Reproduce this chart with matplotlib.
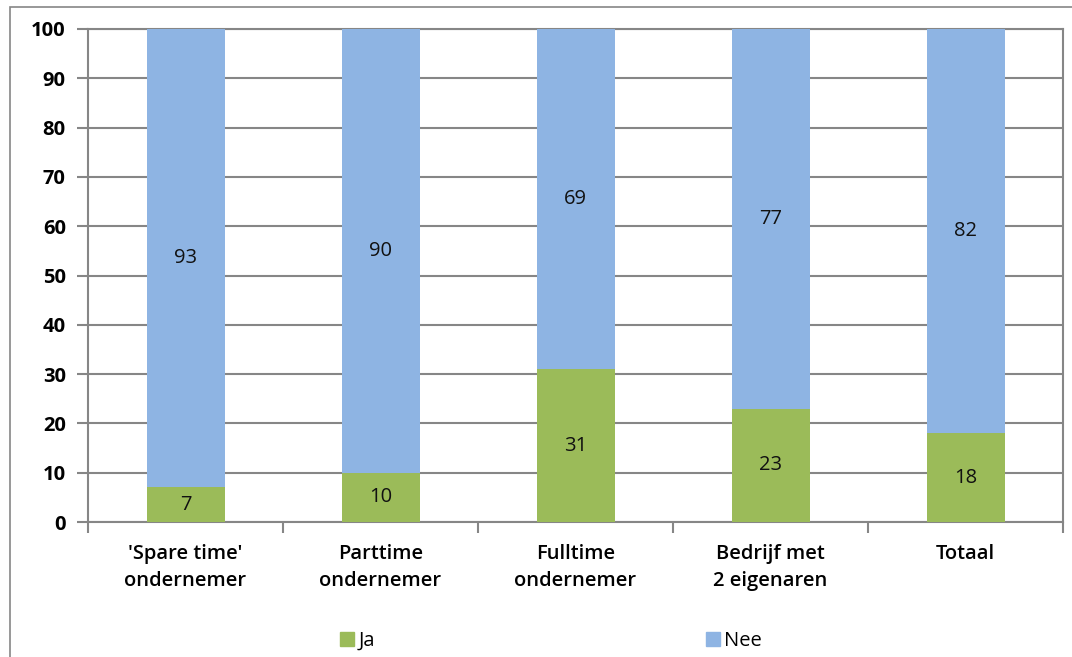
import matplotlib.pyplot as plt
from matplotlib.patches import Patch, Rectangle
import numpy as np

categories = ["'Spare time'\nondernemer", "Parttime\nondernemer", "Fulltime\nondernemer",
              "Bedrijf met\n2 eigenaren", "Totaal"]
ja = [7, 10, 31, 23, 18]
nee = [93, 90, 69, 77, 82]

green = '#9BBB59'
blue = '#8EB4E3'
grey = '#868686'

plt.rcParams['font.family'] = ['Open Sans', 'DejaVu Sans']

fig = plt.figure(figsize=(10.72, 6.57), dpi=100)
ax = fig.add_axes([88/1072, 1-522/657, (1063-88)/1072, (522-29)/657])

x = np.arange(len(categories))
ax.bar(x, ja, width=0.4, color=green, zorder=3)
ax.bar(x, nee, width=0.4, bottom=ja, color=blue, zorder=3)

for i in range(len(x)):
    ax.text(x[i], ja[i]/2, str(ja[i]), ha='center', va='center', fontsize=14.5, color='#111111', zorder=4)
    ax.text(x[i], ja[i] + nee[i]/2, str(nee[i]), ha='center', va='center', fontsize=14.5, color='#111111', zorder=4)

ax.set_xlim(-0.5, len(categories) - 0.5)
ax.set_ylim(0, 100)
ax.set_yticks(range(0, 101, 10))
ax.yaxis.grid(True, color=grey, linewidth=1.5, zorder=0)
ax.set_xticks(x)
ax.set_xticklabels(categories, fontsize=14.5, fontweight='semibold', linespacing=1.45)
ax.set_xticks(np.arange(-0.5, len(categories)), minor=True)
ax.tick_params(axis='x', which='major', length=0, pad=16)
ax.tick_params(axis='x', which='minor', length=8, width=1.5, color=grey)
ax.tick_params(axis='y', length=8, width=1.5, color=grey, labelsize=14.5, pad=8)
for lab in ax.get_yticklabels():
    lab.set_fontweight('bold')
for s in ax.spines.values():
    s.set_color(grey)
    s.set_linewidth(1.5)

# outer chart frame (cropped)
fig.patches.append(Rectangle((10/1072, -0.1), 1.2, 1 - 7/657 + 0.1, transform=fig.transFigure,
                             fill=False, edgecolor=grey, linewidth=1.2))

fig.legend(handles=[Patch(color=green, label='Ja')], loc='center left',
           bbox_to_anchor=(322/1072, 1-641/657), frameon=False, fontsize=14.5,
           handlelength=0.7, handleheight=0.7, handletextpad=0.2)
fig.legend(handles=[Patch(color=blue, label='Nee')], loc='center left',
           bbox_to_anchor=(688/1072, 1-641/657), frameon=False, fontsize=14.5,
           handlelength=0.7, handleheight=0.7, handletextpad=0.2)

fig.savefig('out.png', dpi=100)
